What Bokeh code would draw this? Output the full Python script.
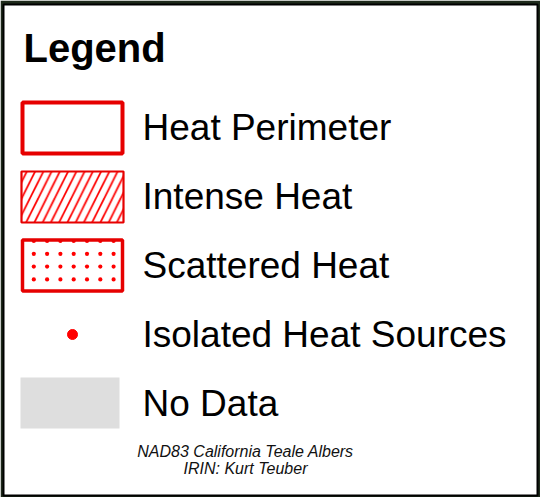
import numpy as np
from bokeh.plotting import figure
from bokeh.models import Range1d
from bokeh.core.properties import value
from bokeh.embed import file_html
from bokeh.resources import INLINE

# ---- content ----
title = "Legend"
labels = ["Heat Perimeter", "Intense Heat", "Scattered Heat", "Isolated Heat Sources", "No Data"]
footer = ["NAD83 California Teale Albers", "IRIN: Kurt Teuber"]

# ---- layout (pixel coordinates, y downward) ----
W, H = 540, 497
FONT = "Liberation Sans"
SHIFT = 0.41  # em offset to land the alphabetic baseline where wanted

title_size = 40
label_size = 37
foot_size = 16
label_x = 142
label_base = [142.3, 211.3, 280.3, 349.3, 418.0]
foot_base = [457.5, 475.0]
sym_x = 72
RED = "#e60000"

p = figure(width=W, height=H, output_backend="svg", toolbar_location=None,
           x_range=Range1d(3, 537), y_range=Range1d(495, 4),
           min_border_left=3, min_border_right=3, min_border_top=4, min_border_bottom=2,
           border_fill_color="#1e2a1b", background_fill_color="white",
           outline_line_color="black", outline_line_width=2)
p.axis.visible = False
p.grid.visible = False
p.styles = {"position": "absolute", "top": "0px", "left": "0px"}

# title
p.text(x=[23], y=[64 - SHIFT * title_size], text=[title], text_font=value(FONT),
       text_font_size=f"{title_size}px", text_font_style="bold", text_color="black",
       text_baseline="alphabetic")

# symbols
p.rect(x=[sym_x], y=[127.5], width=100, height=51, fill_color="white",
       line_color=RED, line_width=4)
p.rect(x=[sym_x], y=[196.5], width=102, height=51, fill_color="white",
       line_color=RED, line_width=2.2, hatch_pattern="/", hatch_color="#ff0000",
       hatch_scale=16.5, hatch_weight=1.7)

# scattered-heat swatch: dotted fill pattern inside a red frame
step = 13.3
gx, gy = np.meshgrid(33.3 + step * np.arange(7), 240.5 + 12.8 * np.arange(4))
p.scatter(x=gx.ravel(), y=gy.ravel(), size=4.2, marker="circle",
          fill_color="#ff0000", line_color=None)
p.rect(x=[sym_x], y=[265], width=100, height=51, fill_color=None,
       line_color=RED, line_width=3.5)

p.scatter(x=[sym_x], y=[334], size=10, marker="circle", fill_color="#ff0000",
          line_color="#ff0000")
p.rect(x=[69.5], y=[402.5], width=99, height=51, fill_color="#dedede",
       line_color=None)

# labels
p.text(x=[label_x] * len(labels), y=[b - SHIFT * label_size for b in label_base],
       text=labels, text_font=value(FONT), text_font_size=f"{label_size}px",
       text_color="black", text_baseline="alphabetic")

# footer
p.text(x=[245, 245], y=[b - SHIFT * foot_size for b in foot_base], text=footer,
       text_font=value(FONT), text_font_size=f"{foot_size}px",
       text_font_style="italic", text_color="#111111",
       text_align="center", text_baseline="alphabetic")

open("out.html", "w").write(file_html(p, INLINE))
